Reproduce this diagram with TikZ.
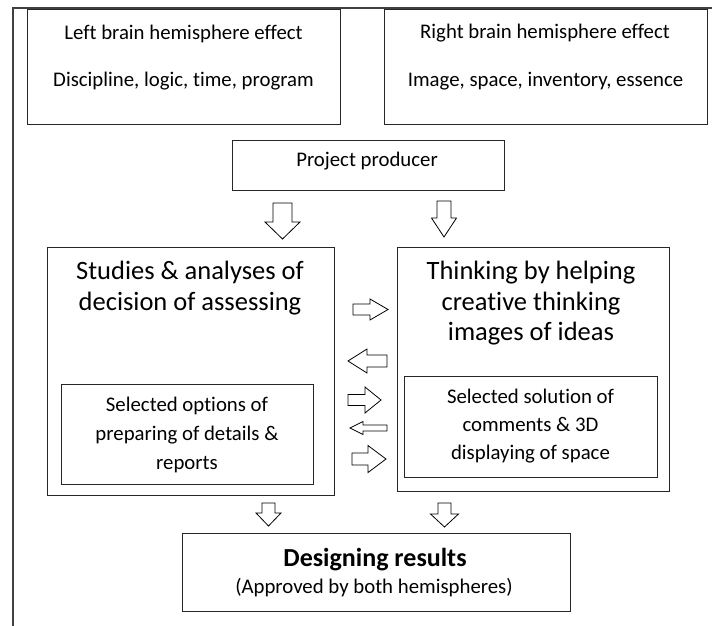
\documentclass[tikz,border=0pt]{standalone}
\usepackage{fontspec}
\setmainfont{Carlito}[Ligatures={NoCommon}]
\newcommand{\blkdown}[6]{\draw[blk] ({#1-#2},#4) -- ({#1+#2},#4) -- ({#1+#2},#5) -- ({#1+#3},#5) -- (#1,#6) -- ({#1-#3},#5) -- ({#1-#2},#5) -- cycle;}
\newcommand{\blkhor}[6]{\draw[blk] (#4,{#1-#2}) -- (#5,{#1-#2}) -- (#5,{#1-#3}) -- (#6,#1) -- (#5,{#1+#3}) -- (#5,{#1+#2}) -- (#4,{#1+#2}) -- cycle;}
\begin{document}
\begin{tikzpicture}[x=1pt,y=-1pt,
  box/.style={draw=black!85, line width=1pt, inner sep=0pt},
  txt/.style={inner sep=0pt, align=center, font=\fontsize{20.8}{24}\selectfont},
  bigtxt/.style={inner sep=0pt, align=center},
  blk/.style={draw=black, line width=0.8pt, fill=white, line join=miter}]
\useasboundingbox (0,0) rectangle (712,626);
% outer frame
\draw[black!75, line width=1.5pt] (13,626) -- (13,8) -- (712,8);
% boxes
\node[box, minimum width=313pt, minimum height=114pt] (lefttop) at (183.5,67) {};
\node[box, minimum width=323pt, minimum height=114pt] (righttop) at (545.5,67) {};
\node[box, minimum width=272pt, minimum height=50pt] (producer) at (368,165) {};
\node[box, minimum width=287pt, minimum height=248pt] (leftbig) at (190.5,371) {};
\node[box, minimum width=252pt, minimum height=100pt] (leftin) at (187,434) {};
\node[box, minimum width=272pt, minimum height=244pt] (rightbig) at (533,369) {};
\node[box, minimum width=253pt, minimum height=101pt] (rightin) at (530.5,426.5) {};
\node[box, minimum width=388pt, minimum height=78pt] (result) at (376,572) {};
% texts
\node[txt] (lt1) at (183.5,33.5) {Left brain hemisphere effect};
\node[txt] (lt2) at (183.5,81.5) {Discipline, logic, time, program};
\node[txt] (rt1) at (545,33.5) {Right brain hemisphere effect};
\node[txt] (rt2) at (545.5,81.5) {Image, space, inventory, essence};
\node[txt] (prodtxt) at (367,161.5) {Project producer};
\node[bigtxt, font=\fontsize{26.5}{31}\selectfont] (lbtxt) at (190,288) {Studies \& analyses of\\decision of assessing};
\node[bigtxt, font=\fontsize{26.5}{30.5}\selectfont] (rbtxt) at (531,303.5) {Thinking by helping\\creative thinking\\images of ideas};
\node[txt, font=\fontsize{20.8}{29}\selectfont] (litxt) at (187,435) {Selected options of\\preparing of details \&\\reports};
\node[txt, font=\fontsize{20.8}{28}\selectfont] (ritxt) at (530.5,426) {Selected solution of\\comments \& 3D\\displaying of space};
\node[bigtxt, font=\fontsize{26}{30}\selectfont\bfseries] (restxt) at (375,559.5) {Designing results};
\node[txt] (apptxt) at (374,588) {(Approved by both hemispheres)};
% block arrows
\blkdown{282.5}{9.5}{17.5}{203}{222}{239}
\blkdown{444}{7}{12.5}{201}{218}{237}
\blkdown{268.5}{6.5}{12.5}{503}{513}{526}
\blkdown{444.5}{6.5}{14}{503}{514}{527}
\blkhor{309.5}{5.5}{10.5}{353}{370}{388}
\blkhor{361}{6}{12}{387}{367}{348}
\blkhor{400}{5.5}{13}{348}{365}{381}
\blkhor{428}{3}{6.5}{387}{363}{350}
\blkhor{459}{6}{13.5}{352}{368}{386}
\end{tikzpicture}
\end{document}
